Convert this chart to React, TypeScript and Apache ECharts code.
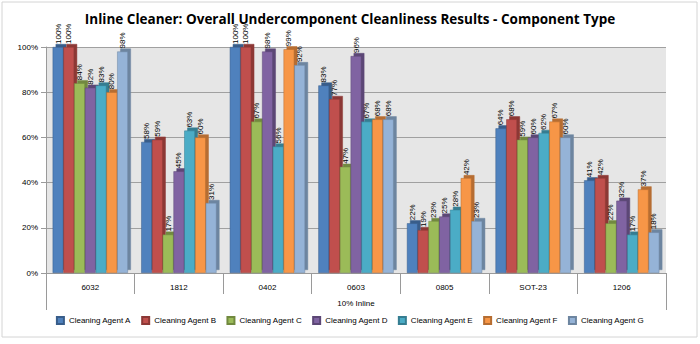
import React, { useEffect, useRef } from "react";
import * as echarts from "echarts";

const categories = ["6032", "1812", "0402", "0603", "0805", "SOT-23", "1206"];
const groupLabel = ["10% Inline"];
const agentA = [100, 58, 100, 83, 22, 64, 41];
const agentB = [100, 59, 100, 77, 19, 68, 42];
const agentC = [84, 17, 67, 47, 23, 59, 22];
const agentD = [82, 45, 98, 96, 25, 60, 32];
const agentE = [83, 63, 56, 67, 28, 62, 17];
const agentF = [80, 60, 99, 68, 42, 67, 37];
const agentG = [98, 31, 92, 68, 23, 60, 18];
const seriesNames = [
  "Cleaning Agent A",
  "Cleaning Agent B",
  "Cleaning Agent C",
  "Cleaning Agent D",
  "Cleaning Agent E",
  "Cleaning Agent F",
  "Cleaning Agent G",
];
const seriesValues = [agentA, agentB, agentC, agentD, agentE, agentF, agentG];
const colors = ["#4F81BD", "#C0504D", "#9BBB59", "#8064A2", "#4BACC6", "#F79646", "#95B3D7"];
const darkColors = ["#385D8A", "#8C3836", "#71893F", "#5C4776", "#357D91", "#B66D31", "#6D85A0"];

export default function App() {
  const ref = useRef<HTMLDivElement>(null);
  useEffect(() => {
    if (!ref.current) return;
    const chart = echarts.init(ref.current, null, { renderer: "svg" });
    const font = "'Liberation Sans', Arial, sans-serif";
    chart.setOption({
      animation: false,
      backgroundColor: "#ffffff",
      title: {
        text: "Inline Cleaner: Overall Undercomponent Cleanliness Results - Component Type",
        left: "center",
        top: 7,
        textStyle: { fontFamily: "'Open Sans', sans-serif", fontSize: 13.5, fontWeight: "bold", color: "#000" },
      },
      graphic: [
        {
          type: "rect",
          shape: { x: 2, y: 2, width: 695, height: 335 },
          style: { fill: "none", stroke: "#d4d4d4", lineWidth: 1 },
          silent: true,
          z: -1,
        },
      ],
      legend: {
        bottom: 14,
        left: "center",
        itemWidth: 7,
        itemHeight: 7,
        itemGap: 10,
        icon: "rect",
        textStyle: { fontFamily: font, fontSize: 8, color: "#000" },
        data: seriesNames,
      },
      grid: {
        left: 46,
        right: 34,
        top: 47,
        bottom: 71,
        show: true,
        backgroundColor: "#e6e6e6",
        borderWidth: 0,
      },
      xAxis: [
        {
          type: "category",
          data: categories,
          axisLine: { lineStyle: { color: "#9a9a9a" } },
          axisTick: { show: true, length: 21, lineStyle: { color: "#9a9a9a" } },
          axisLabel: { fontFamily: font, fontSize: 8, color: "#000", margin: 10 },
        },
        {
          type: "category",
          data: groupLabel,
          position: "bottom",
          offset: 21,
          axisLine: { show: false },
          axisTick: { show: true, length: 16, lineStyle: { color: "#9a9a9a" } },
          axisLabel: { fontFamily: font, fontSize: 8, color: "#000", margin: 5 },
        },
      ],
      yAxis: {
        type: "value",
        min: 0,
        max: 100,
        interval: 20,
        axisLine: { show: true, lineStyle: { color: "#9a9a9a" } },
        axisTick: { show: true, lineStyle: { color: "#9a9a9a" } },
        axisLabel: { formatter: "{value}%", fontFamily: font, fontSize: 8, color: "#000", margin: 8 },
        splitLine: { lineStyle: { color: "#a0a0a0" } },
      },
      series: seriesNames.map((name, i) => ({
        name,
        type: "bar",
        xAxisIndex: 0,
        data: seriesValues[i],
        barGap: "0%",
        barCategoryGap: "15%",
        itemStyle: {
          color: colors[i],
          borderColor: darkColors[i],
          borderWidth: 0.5,
          shadowColor: darkColors[i],
          shadowOffsetX: 3,
          shadowOffsetY: -3,
          shadowBlur: 0,
        },
        label: {
          show: true,
          position: "top",
          rotate: 90,
          align: "left",
          verticalAlign: "middle",
          distance: 3,
          formatter: "{c}%",
          fontFamily: font,
          fontSize: 8,
          color: "#000",
        },
      })),
    });
    return () => chart.dispose();
  }, []);
  return (
    <div
      ref={ref}
      style={{ position: "absolute", left: 0, top: 0, width: 700, height: 344 }}
    />
  );
}
